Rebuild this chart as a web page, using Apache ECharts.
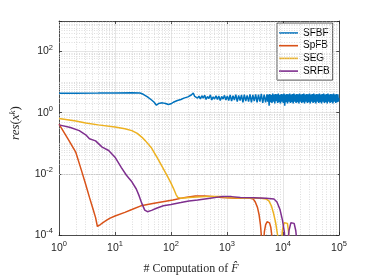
<!DOCTYPE html>
<html><head><meta charset="utf-8">
<script src="https://cdn.jsdelivr.net/npm/echarts@6/dist/echarts.min.js"></script>
<style>html,body{margin:0;padding:0;background:#fff}#c{width:374px;height:280px}</style>
</head><body><div id="c"></div>
<script>
const seriesNames = ['SFBF', 'SpFB', 'SEG', 'SRFB'];
const xTickExps = [0, 1, 2, 3, 4, 5];
const yTickExps = [-4, -2, 0, 2];

const sfbf = [[1,4.3],[2,4.35],[5,4.4],[10,4.45],[20,4.5],[28,4.4],[32,4.0],[38,3.3],[45,2.6],[50,2.2],[55,1.75],[60,2.0],[65,1.9],[70,2.1],[80,2.0],[90,1.85],[100,1.95],[110,2.2],[130,2.5],[150,2.7],[170,3.0],[200,3.3],[230,3.8],[250,4.4],
[265,3.4],[281,3.9],[298,3.0],[316,3.5],[335,2.8],[355,3.6],[376,3.0],[399,3.7],[423,2.7],[448,3.4],[475,2.9],[504,3.8],[534,2.6],[566,3.3],[600,2.8],[636,3.6],[674,2.7],[714,3.5],[757,2.5],[803,3.4],[851,2.8],[902,3.7],[956,2.6],[1013,3.5],[1074,2.5],[1139,3.8],[1207,2.4],[1279,3.6],[1356,2.6],[1437,3.9],[1524,2.3],[1615,3.7],[1712,2.5],[1815,3.8],[1924,2.2],[2039,3.9],[2161,2.4],[2291,3.7],[2429,2.3],[2574,4.0],[2729,2.2],[2893,3.8],[3066,2.4],[3250,4.0],[3445,2.2],[3652,3.9],[3871,2.3],[4103,4.1],[4349,2.1],[4610,3.9],[4887,2.2],
[5180,4.0],[5333,2.3],[5491,3.9],[5653,1.7],[5820,4.1],[5993,2.2],[6170,3.8],[6352,2.1],[6540,4.2],[6733,2.3],[6932,3.9],[7137,2.0],[7348,4.1],[7565,2.4],[7789,4.0],[8019,2.1],[8257,4.2],[8501,2.2],[8752,3.8],[9011,2.0],[9277,4.1],[9551,2.3],[9834,4.0],[10125,2.1],[10424,4.2],[10732,1.7],[11049,3.9],[11376,2.2],[11712,4.1],[12059,2.0],[12415,4.0],[12782,2.3],[13160,4.2],[13549,2.1],[13949,3.9],[14361,2.2],[14786,4.1],[15223,2.0],[15674,4.2],[16137,2.3],[16614,3.9],[17105,2.1],[17611,4.1],[18131,2.2],[18667,4.0],[19219,2.0],[19787,4.2],[20372,2.3],[20975,3.9],[21595,2.1],[22233,4.1],[22890,2.2],[23567,4.2],[24264,2.0],[24981,3.9],[25720,2.3],[26480,4.1],[27263,2.1],[28069,4.0],[28899,2.2],[29753,4.2],[30633,2.0],[31538,3.9],[32471,2.3],[33430,4.1],[34419,2.1],[35436,4.2],[36484,2.2],[37562,3.9],[38673,2.0],[39816,4.1],[40993,2.3],[42205,4.0],[43453,2.1],[44737,4.2],[46060,2.2],[47421,3.9],[48823,2.0],[50267,4.1],[51753,2.3],[53283,4.2],[54858,2.1],[56480,3.9],[58150,2.2],[59868,4.1],[61638,2.0],[63460,4.2],[65336,2.3],[67268,3.9],[69257,2.1],[71304,4.1],[73412,2.2],[75582,4.0],[77816,2.0],[80117,4.2],[82485,2.3],[84924,3.9],[87434,2.1],[90020,4.1],[92681,2.2],[95421,4.0],[97700,2.3],[100000,3.0]];

const spfb = [[1,0.42],[1.5,0.125],[2,0.05],[2.5,0.0135],[3,0.0045],[3.5,0.0017],[4,0.00076],[4.5,0.00037],[4.85,0.00019],[5.5,0.00022],[6,0.00025],[7,0.0003],[8,0.00035],[10,0.00042],[15,0.00055],[20,0.00068],[29,0.0009],[50,0.0011],[108,0.0014],[180,0.0017],[272,0.0019],[400,0.0019],[600,0.0018],[790,0.0017],[1500,0.0016],[2600,0.0016],[2950,0.0015],[3200,0.0012],[3500,0.0008],[3750,0.00045],[3950,0.00022],[4100,0.0001],[4250,0.00003],[4300,0.000005],[4450,0.00004],[4650,0.00013],[4900,0.00022],[5200,0.00027],[5450,0.00028],[5750,0.00025],[6050,0.00018],[6300,0.0001],[6500,0.00004],[6650,0.000005]];

const seg = [[1,0.65],[2,0.54],[3,0.46],[5,0.4],[10,0.34],[15,0.3],[20,0.26],[25,0.21],[30,0.16],[35,0.12],[45,0.07],[56,0.035],[70,0.017],[89,0.0075],[100,0.005],[112,0.0032],[123,0.0021],[132,0.0017],[150,0.0016],[210,0.0017],[400,0.0018],[790,0.0018],[1000,0.0017],[2000,0.0016],[3000,0.0016],[4000,0.0016],[5000,0.0015],[5600,0.0013],[6200,0.0009],[6800,0.0005],[7400,0.00025],[8000,0.0001],[8500,0.00003],[8800,0.000005],[9200,0.00004],[9800,0.00015],[10500,0.00025],[11300,0.00028],[12000,0.00024],[12500,0.00014],[12900,0.00005],[13200,0.000005]];

const srfb = [[1,0.4],[1.6,0.33],[2.3,0.26],[3,0.19],[3.5,0.14],[4.5,0.12],[5.9,0.075],[7.7,0.058],[10,0.035],[13,0.016],[16,0.009],[20,0.0055],[24,0.0032],[27,0.0019],[30,0.0011],[34,0.00065],[38,0.00058],[45,0.00064],[55,0.00075],[73,0.0009],[100,0.001],[150,0.00115],[209,0.0013],[300,0.0014],[500,0.0016],[790,0.0018],[1200,0.0018],[1730,0.0017],[3000,0.00165],[5000,0.0016],[6900,0.0015],[7800,0.0012],[8800,0.0007],[9800,0.0003],[10600,0.00012],[11200,0.00003],[11500,0.000005],[12000,0.00004],[12800,0.00014],[13800,0.00025],[14700,0.00028],[15800,0.00024],[16900,0.00014],[17900,0.00005],[18700,0.000005]];

const colors = ['#0072BD', '#D95319', '#EDB120', '#7E2F8E'];
const dataList = [sfbf, spfb, seg, srfb];

// minor grid positions (log decades)
const minorX = [], minorY = [];
for (let e = 0; e < 5; e++) for (let m = 2; m <= 9; m++) minorX.push({xAxis: m * Math.pow(10, e)});
for (let e = -4; e < 3; e++) for (let m = 1; m <= 9; m++) {
  if (m === 1 && yTickExps.indexOf(e) >= 0) continue;
  if (m === 1 && e === -4) continue;
  minorY.push({yAxis: m * Math.pow(10, e)});
}

const axisColor = '#262626';
const labelRich = {
  b: {fontSize: 10.5, fontFamily: 'Liberation Sans, Arial', color: axisColor},
  s: {fontSize: 7.5, fontFamily: 'Liberation Sans, Arial', color: axisColor, padding: [0, 0, 8, 0]}
};
function fmtLog(v) {
  const e = Math.round(Math.log10(v));
  return '{b|10}{s|' + e + '}';
}

const series = dataList.map((d, i) => ({
  name: seriesNames[i], type: 'line', data: d, symbol: 'none', showSymbol: false,
  lineStyle: {width: 1.5, color: colors[i]}, itemStyle: {color: colors[i]},
  clip: true, z: 5, animation: false
}));
series.push({
  type: 'line', data: [], silent: true, animation: false,
  markLine: {
    silent: true, symbol: 'none', label: {show: false}, animation: false,
    lineStyle: {type: [1, 1.5], color: '#c8c8c8', width: 0.6},
    data: minorX.concat(minorY)
  }
});

const chart = echarts.init(document.getElementById('c'), null, {renderer: 'canvas'});
chart.setOption({
  animation: false,
  color: colors,
  grid: {left: 48.5, right: 35, top: 21, bottom: 40, containLabel: false},
  legend: {
    data: seriesNames.map((n, i) => ({name: n, icon: 'rect', itemStyle: {color: colors[i]}})),
    orient: 'vertical', left: 277, top: 23,
    backgroundColor: '#fff', borderColor: axisColor, borderWidth: 0.8,
    padding: [4, 3, 3, 2], itemWidth: 19, itemHeight: 1.6, itemGap: 0.7,
    textStyle: {fontSize: 10, lineHeight: 12, fontFamily: 'Liberation Sans, Arial', color: '#000'}
  },
  xAxis: [{
    type: 'log', logBase: 10, min: 1, max: 100000,
    name: '{n|# Computation of }{i|F\u0302}', nameLocation: 'middle', nameGap: 28,
    nameTextStyle: {padding: [0, 16, 0, 0], rich: {
      n: {fontFamily: 'Liberation Serif, DejaVu Serif, serif', fontSize: 12, color: axisColor},
      i: {fontFamily: 'Liberation Serif, DejaVu Serif, serif', fontStyle: 'italic', fontSize: 12, color: axisColor}
    }},
    axisLine: {lineStyle: {color: axisColor, width: 0.8}},
    axisTick: {inside: true, length: 3, lineStyle: {color: axisColor, width: 0.8}},
    axisLabel: {formatter: fmtLog, rich: labelRich, margin: 5},
    splitLine: {show: true, lineStyle: {color: '#dedede', width: 0.8}},
    minorTick: {show: false}
  }, {
    type: 'log', logBase: 10, min: 1, max: 100000, position: 'top',
    axisLine: {show: true, lineStyle: {color: axisColor, width: 0.8}},
    axisTick: {inside: true, length: 3, lineStyle: {color: axisColor, width: 0.8}},
    axisLabel: {show: false}, splitLine: {show: false}
  }],
  yAxis: [{
    type: 'log', logBase: 10, min: 1e-4, max: 1e3, interval: 2,
    name: '{i|res}{n|(}{i|x}{s|k}{n|)}', nameLocation: 'middle', nameGap: 35,
    nameTextStyle: {padding: [0, 0, 0, 10], rich: {
      i: {fontFamily: 'Liberation Serif, DejaVu Serif, serif', fontStyle: 'italic', fontSize: 13, color: axisColor},
      n: {fontFamily: 'Liberation Serif, DejaVu Serif, serif', fontSize: 13, color: axisColor},
      s: {fontFamily: 'Liberation Serif, DejaVu Serif, serif', fontStyle: 'italic', fontSize: 9, color: axisColor, padding: [0, 0, 7, 0]}
    }},
    axisLine: {show: true, lineStyle: {color: axisColor, width: 0.8}},
    axisTick: {show: true, inside: true, length: 3, lineStyle: {color: axisColor, width: 0.8}},
    axisLabel: {formatter: function (v) {
      const e = Math.round(Math.log10(v));
      return yTickExps.indexOf(e) >= 0 ? fmtLog(v) : '';
    }, rich: labelRich, margin: 6},
    splitLine: {show: true, lineStyle: {color: '#dedede', width: 0.8}}
  }, {
    type: 'log', logBase: 10, min: 1e-4, max: 1e3, interval: 2, position: 'right',
    axisLine: {show: true, lineStyle: {color: axisColor, width: 0.8}},
    axisTick: {show: true, inside: true, length: 3, lineStyle: {color: axisColor, width: 0.8}},
    axisLabel: {show: false}, splitLine: {show: false}
  }],
  series: series
});
</script></body></html>
